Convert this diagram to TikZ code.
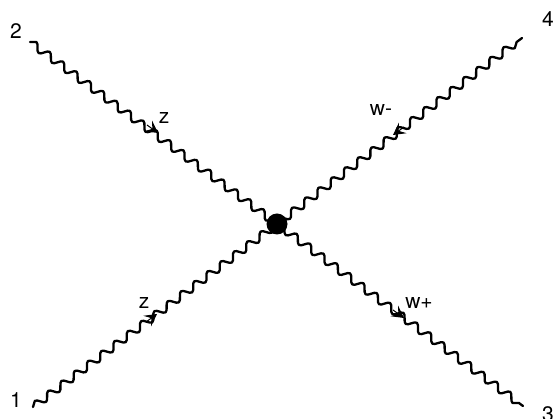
\documentclass[tikz,border=0pt]{standalone}
\usepackage{fontspec}
\setmainfont{TeX Gyre Heros}
\usetikzlibrary{decorations.pathmorphing,arrows.meta}
\tikzset{
  boson/.style={draw=black,line width=2.3pt,line cap=round,line join=round,decorate,decoration={snake,segment length=16.6pt,amplitude=3.8pt}},
  barb/.style={-{Stealth[length=12pt,width=13pt,inset=5pt]},line width=1pt,draw=black},
  lab/.style={font=\fontsize{21}{21}\selectfont,text=black,inner sep=0pt}
}
\begin{document}
\begin{tikzpicture}[x=1pt,y=-1pt]
\useasboundingbox (0,0) rectangle (558,419);
\coordinate (p1) at (33,407);
\coordinate (p2) at (30,42);
\coordinate (p3) at (523,406);
\coordinate (p4) at (522,38);
\node[circle,fill=black,minimum size=21pt,inner sep=0pt] (v) at (277,224) {};
\draw[boson] (p1) -- (v.center);
\draw[boson] (p2) -- (v.center);
\draw[boson] (v.center) -- (p3);
\draw[boson] (v.center) -- (p4);
\coordinate (a1s) at (146,322); \coordinate (a1e) at (157,314);
\coordinate (a2s) at (147,125); \coordinate (a2e) at (158,133);
\coordinate (a3s) at (393,310); \coordinate (a3e) at (404,318);
\coordinate (a4s) at (404,127); \coordinate (a4e) at (393,135);
\draw[barb] (a1s) -- (a1e);
\draw[barb] (a2s) -- (a2e);
\draw[barb] (a3s) -- (a3e);
\draw[barb] (a4s) -- (a4e);
\node[lab] (n1) at (16,400) {1};
\node[lab] (n2) at (16,31) {2};
\node[lab] (n3) at (548,414) {3};
\node[lab] (n4) at (548,19) {4};
\node[lab] (z1) at (144,303) {z};
\node[lab] (z2) at (164,118) {z};
\node[lab] (wm) at (381,110) {w-};
\node[lab] (wp) at (419,303) {w+};
\end{tikzpicture}
\end{document}
